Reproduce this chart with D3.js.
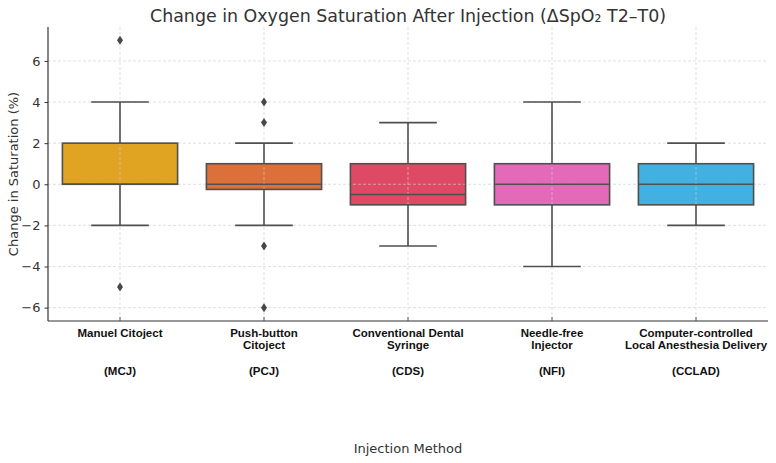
<!DOCTYPE html>
<html>
<head>
<meta charset="utf-8">
<script src="https://cdn.jsdelivr.net/npm/d3@7"></script>
<style>
  body { margin: 0; background: #fff; }
  svg { display: block; }
</style>
</head>
<body>
<div id="chart"></div>
<script>
//************* data ***************/
var methods   = ["MCJ", "PCJ", "CDS", "NFI", "CCLAD"];
var nameLines = [["Manuel Citoject"], ["Push-button", "Citoject"], ["Conventional Dental", "Syringe"],
                 ["Needle-free", "Injector"], ["Computer-controlled", "Local Anesthesia Delivery"]];
var q1        = [0, -0.25, -1, -1, -1];
var medians   = [0, 0, -0.5, 0, 0];
var q3        = [2, 1, 1, 1, 1];
var whiskLow  = [-2, -2, -3, -4, -2];
var whiskHigh = [4, 2, 3, 4, 2];
var outliers  = [[7, -5], [4, 3, -3, -6], [], [], []];
var yTicks    = [-6, -4, -2, 0, 2, 4, 6];
var colors    = ["#e0a422", "#db703a", "#de4a64", "#e36ab8", "#42b0e0"];

//************* set dimensions ***************/
var W = 776, H = 463;
var margin = {left: 48, right: 8, top: 27, bottom: 142};
var width = W - margin.left - margin.right,
    height = H - margin.top - margin.bottom;

var svg = d3.select("#chart").append("svg")
    .attr("width", W).attr("height", H)
    .style("font-family", "'DejaVu Sans', sans-serif");

var g = svg.append("g")
    .attr("transform", "translate(" + margin.left + "," + margin.top + ")");

//************* scales ***************/
var x = d3.scaleBand().domain(methods).range([0, width]).padding(0);
var y = d3.scaleLinear().domain([-6.65, 7.65]).range([height, 0]);
var cx = function(i) { return x(methods[i]) + x.bandwidth() / 2; };
var boxW = x.bandwidth() * 0.8, capW = boxW / 2;

var ink = "#4f4f4f";

//************* box fills (grid sits on top of them) ***************/
var fills = g.append("g").selectAll("rect").data(methods).enter().append("rect")
    .attr("x", function(d, i) { return cx(i) - boxW / 2; })
    .attr("width", boxW)
    .attr("y", function(d, i) { return y(q3[i]); })
    .attr("height", function(d, i) { return y(q1[i]) - y(q3[i]); })
    .attr("fill", function(d, i) { return colors[i]; });

// grid lines
var grid = g.append("g").attr("class", "grid").attr("opacity", 0.8);
grid.selectAll("line.h").data(yTicks).enter().append("line")
    .attr("x1", 0).attr("x2", width)
    .attr("y1", function(d) { return y(d); }).attr("y2", function(d) { return y(d); })
    .attr("stroke", "#cfcfcf").attr("stroke-width", 0.8).attr("stroke-dasharray", "3,2");
grid.selectAll("line.v").data(methods).enter().append("line")
    .attr("y1", 0).attr("y2", height)
    .attr("x1", function(d) { return x(d) + x.bandwidth() / 2; })
    .attr("x2", function(d) { return x(d) + x.bandwidth() / 2; })
    .attr("stroke", "#cfcfcf").attr("stroke-width", 0.8).attr("stroke-dasharray", "3,2");

//************* boxes ***************/
var boxes = g.append("g").selectAll("g").data(methods).enter().append("g");

// whiskers
boxes.append("line")
    .attr("x1", function(d, i) { return cx(i); }).attr("x2", function(d, i) { return cx(i); })
    .attr("y1", function(d, i) { return y(whiskHigh[i]); }).attr("y2", function(d, i) { return y(q3[i]); })
    .attr("stroke", ink).attr("stroke-width", 1.6);
boxes.append("line")
    .attr("x1", function(d, i) { return cx(i); }).attr("x2", function(d, i) { return cx(i); })
    .attr("y1", function(d, i) { return y(q1[i]); }).attr("y2", function(d, i) { return y(whiskLow[i]); })
    .attr("stroke", ink).attr("stroke-width", 1.6);
[whiskHigh, whiskLow].forEach(function(arr) {
  boxes.append("line")
      .attr("x1", function(d, i) { return cx(i) - capW / 2; })
      .attr("x2", function(d, i) { return cx(i) + capW / 2; })
      .attr("y1", function(d, i) { return y(arr[i]); }).attr("y2", function(d, i) { return y(arr[i]); })
      .attr("stroke", ink).attr("stroke-width", 1.6);
});

boxes.append("rect")
    .attr("x", function(d, i) { return cx(i) - boxW / 2; })
    .attr("width", boxW)
    .attr("y", function(d, i) { return y(q3[i]); })
    .attr("height", function(d, i) { return y(q1[i]) - y(q3[i]); })
    .attr("fill", "none")
    .attr("stroke", ink).attr("stroke-width", 1.6);

boxes.append("line")
    .attr("x1", function(d, i) { return cx(i) - boxW / 2; })
    .attr("x2", function(d, i) { return cx(i) + boxW / 2; })
    .attr("y1", function(d, i) { return y(medians[i]); }).attr("y2", function(d, i) { return y(medians[i]); })
    .attr("stroke", ink).attr("stroke-width", 1.6);

// outliers (thin diamonds)
boxes.each(function(d, i) {
  d3.select(this).selectAll("path.out").data(outliers[i]).enter().append("path")
      .attr("d", "M0,-4.5L3,0L0,4.5L-3,0Z")
      .attr("transform", function(v) { return "translate(" + cx(i) + "," + y(v) + ")"; })
      .attr("fill", "#474747");
});

//************* axes ***************/
var yAxis = g.append("g").call(d3.axisLeft(y).tickValues(yTicks).tickSize(3.5).tickPadding(4)
    .tickFormat(function(d) { return d < 0 ? "\u2212" + Math.abs(d) : d; }));
yAxis.select(".domain").attr("stroke", "#333").attr("stroke-width", 1.2).attr("d", "M0," + height + "V0");
yAxis.selectAll(".tick line").attr("stroke", "#333");
yAxis.selectAll("text").attr("fill", "#333").style("font-size", "13px")
    .style("font-family", "'DejaVu Sans', sans-serif");

var xAxis = g.append("g").attr("transform", "translate(0," + height + ")")
    .call(d3.axisBottom(x).tickSize(-4).tickFormat(""));
xAxis.select(".domain").attr("stroke", "#333").attr("stroke-width", 1.2).attr("d", "M0,0H" + width);
xAxis.selectAll(".tick line").attr("stroke", "#555");

// category labels
var lab = g.append("g").selectAll("text").data(methods).enter().append("text")
    .attr("text-anchor", "middle")
    .style("font-family", "'Liberation Sans', Arial, sans-serif")
    .style("font-weight", "bold").style("font-size", "11.5px").attr("fill", "#111");
lab.each(function(d, i) {
  var t = d3.select(this);
  nameLines[i].forEach(function(s, k) {
    t.append("tspan").attr("x", cx(i)).attr("y", height + 16 + k * 11.5).text(s);
  });
  t.append("tspan").attr("x", cx(i)).attr("y", height + 53.5).text("(" + d + ")");
});

//************* titles ***************/
svg.append("text")
    .attr("x", 408).attr("y", 22)
    .attr("text-anchor", "middle")
    .attr("textLength", 516).attr("lengthAdjust", "spacingAndGlyphs")
    .style("font-size", "17.5px").attr("fill", "#333")
    .text("Change in Oxygen Saturation After Injection (\u0394SpO\u2082 T2\u2013T0)");

svg.append("text")
    .attr("transform", "translate(18," + (margin.top + height / 2) + ") rotate(-90)")
    .attr("text-anchor", "middle")
    .style("font-size", "13px").attr("fill", "#333")
    .text("Change in Saturation (%)");

svg.append("text")
    .attr("x", 408).attr("y", 452.5)
    .attr("text-anchor", "middle")
    .style("font-size", "13px").attr("fill", "#333")
    .text("Injection Method");
</script>
</body>
</html>
